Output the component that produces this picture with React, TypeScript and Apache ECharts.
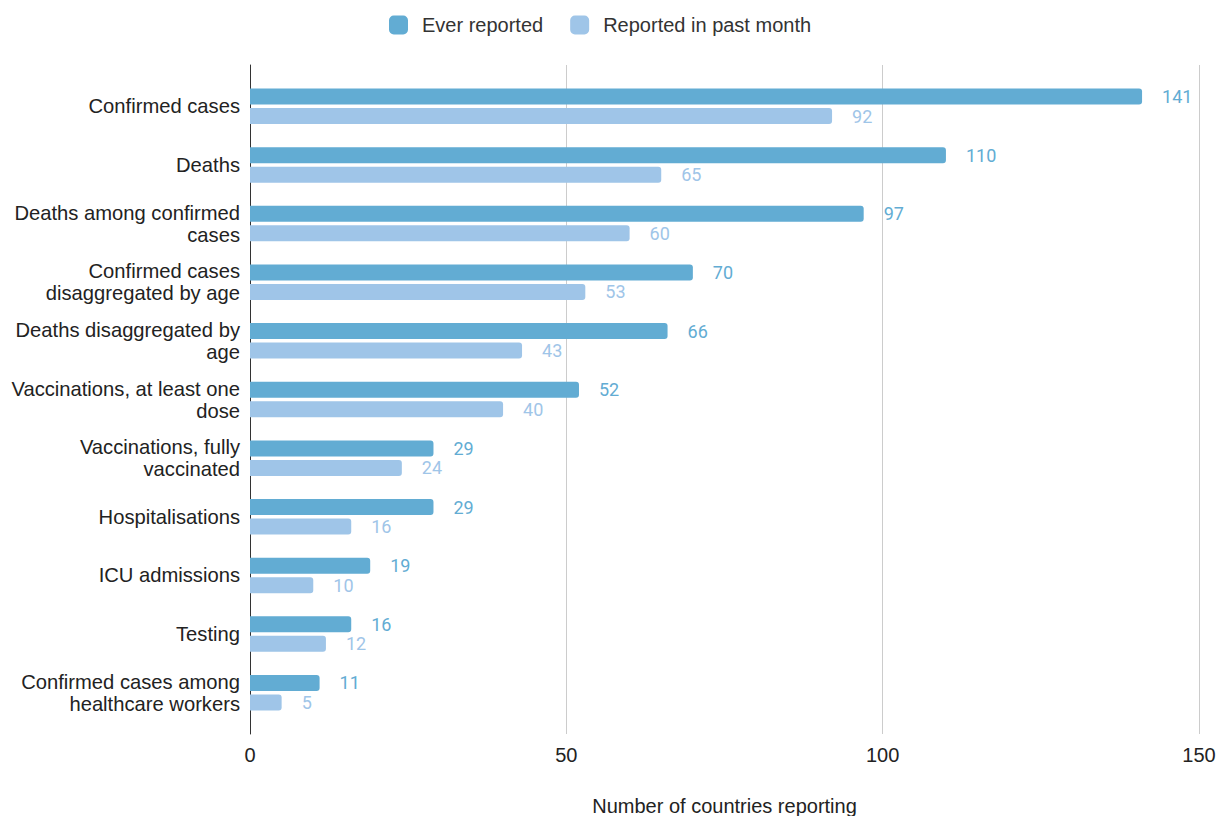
import React, { useEffect, useRef } from "react";
import * as echarts from "echarts";

const categories = [
  "Confirmed cases",
  "Deaths",
  "Deaths among confirmed\ncases",
  "Confirmed cases\ndisaggregated by age",
  "Deaths disaggregated by\nage",
  "Vaccinations, at least one\ndose",
  "Vaccinations, fully\nvaccinated",
  "Hospitalisations",
  "ICU admissions",
  "Testing",
  "Confirmed cases among\nhealthcare workers",
];
const everReported = [141, 110, 97, 70, 66, 52, 29, 29, 19, 16, 11];
const pastMonth = [92, 65, 60, 53, 43, 40, 24, 16, 10, 12, 5];
const xTicks = { min: 0, max: 150, interval: 50 };

const C_EVER = "#62acd3";
const C_PAST = "#9fc5e8";
const SANS = "Liberation Sans, Arial, sans-serif";

export default function App() {
  const ref = useRef<HTMLDivElement>(null);
  useEffect(() => {
    if (!ref.current) return;
    const chart = echarts.init(ref.current, undefined, { renderer: "svg" });
    chart.setOption({
      animation: false,
      legend: {
        top: 10,
        left: 384,
        itemWidth: 19,
        itemHeight: 19,
        itemGap: 27,
        icon: "roundRect",
        textStyle: {
          fontFamily: SANS,
          fontSize: 20,
          color: "#333",
          padding: [0, 0, 0, 9],
        },
        data: ["Ever reported", "Reported in past month"],
      },
      grid: [
        // bars
        { left: 250, right: 18, top: 77, height: 645, outerBoundsMode: "none" },
        // frame: gridlines, left axis line, tick labels and axis title
        { left: 250, right: 18, top: 65, height: 669, outerBoundsMode: "none" },
      ],
      xAxis: [
        {
          gridIndex: 0,
          type: "value",
          min: xTicks.min,
          max: xTicks.max,
          interval: xTicks.interval,
          show: false,
        },
        {
          gridIndex: 1,
          type: "value",
          min: xTicks.min,
          max: xTicks.max,
          interval: xTicks.interval,
          axisLine: { show: false },
          axisTick: { show: false },
          splitLine: { show: true, lineStyle: { color: "#cccccc", width: 1 } },
          axisLabel: {
            margin: 11,
            fontFamily: SANS,
            fontSize: 20,
            color: "#222",
          },
          name: "Number of countries reporting",
          nameLocation: "middle",
          nameGap: 62,
          nameTextStyle: {
            fontFamily: SANS,
            fontSize: 20,
            color: "#222",
            verticalAlign: "top",
          },
        },
      ],
      yAxis: [
        {
          gridIndex: 0,
          type: "category",
          inverse: true,
          data: categories,
          axisLine: { show: false },
          axisTick: { show: false },
          axisLabel: {
            margin: 10,
            fontFamily: SANS,
            fontSize: 20.2,
            lineHeight: 22,
            color: "#222",
            align: "right",
          },
        },
        {
          gridIndex: 1,
          type: "value",
          min: 0,
          max: 1,
          axisLine: { show: true, lineStyle: { color: "#333", width: 1 } },
          axisTick: { show: false },
          axisLabel: { show: false },
          splitLine: { show: false },
        },
      ],
      series: [
        {
          name: "Ever reported",
          type: "bar",
          xAxisIndex: 0,
          yAxisIndex: 0,
          data: everReported,
          barWidth: 16,
          barGap: "22%",
          itemStyle: { color: C_EVER, borderRadius: [0, 3, 3, 0] },
          label: {
            show: true,
            position: "right",
            distance: 20,
            color: C_EVER,
            fontFamily: "Roboto, sans-serif",
            fontSize: 18,
          },
        },
        {
          name: "Reported in past month",
          type: "bar",
          xAxisIndex: 0,
          yAxisIndex: 0,
          data: pastMonth,
          barWidth: 16,
          itemStyle: { color: C_PAST, borderRadius: [0, 3, 3, 0] },
          label: {
            show: true,
            position: "right",
            distance: 20,
            color: C_PAST,
            fontFamily: "Roboto, sans-serif",
            fontSize: 18,
          },
        },
      ],
    });
    return () => chart.dispose();
  }, []);
  return (
    <div
      ref={ref}
      style={{ position: "fixed", left: 0, top: 0, width: 1217, height: 816, background: "#fff" }}
    />
  );
}
